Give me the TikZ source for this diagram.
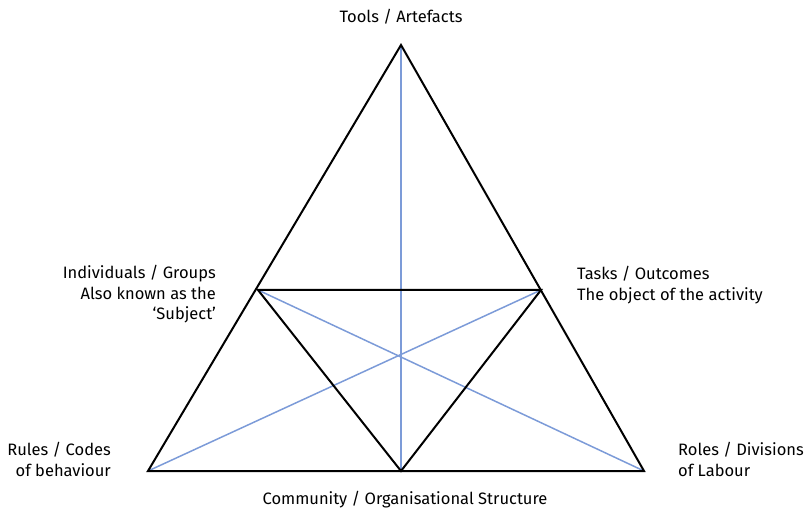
\documentclass[tikz,border=0pt]{standalone}
\usepackage{fontspec}
\setmainfont{Fira Sans}
\begin{document}
\begin{tikzpicture}[x=1pt,y=-1pt,
  edge/.style={draw=black,line width=2pt,line join=miter},
  link/.style={draw=linkblue,line width=1.5pt},
  lbl/.style={font=\fontsize{16.5}{20.5}\selectfont,inner sep=0pt,text=black}]
\definecolor{linkblue}{HTML}{7C9BD8}
\useasboundingbox (0,0) rectangle (804,513);
% vertices of the outer triangle
\coordinate (top) at (401,45);
\coordinate (bl) at (148,471);
\coordinate (br) at (644,471);
% vertices of the inner triangle
\coordinate (subj) at (258,290);
\coordinate (obj) at (541,290);
\coordinate (comm) at (401,471);
% blue connectors
\draw[link] (top) -- (comm);
\draw[link] (bl) -- (obj);
\draw[link] (br) -- (subj);
% black triangles
\draw[edge] (top) -- (br) -- (bl) -- cycle;
\draw[edge] (subj) -- (obj) -- (comm) -- cycle;
% labels
\node[lbl,anchor=center] (ttools) at (401,17) {Tools / Artefacts};
\node[lbl,anchor=north east,align=right] (tsubj) at (216,265) {Individuals / Groups\\Also known as the\\‘Subject’};
\node[lbl,anchor=north west,align=left] (tobj) at (577,266) {Tasks / Outcomes\\The object of the activity};
\node[lbl,anchor=north east,align=right] (trules) at (111,442) {Rules / Codes\\of behaviour};
\node[lbl,anchor=north west,align=left] (troles) at (678,442) {Roles / Divisions\\of Labour};
\node[lbl,anchor=center] (tcomm) at (405,500) {Community / Organisational Structure};
\end{tikzpicture}
\end{document}
